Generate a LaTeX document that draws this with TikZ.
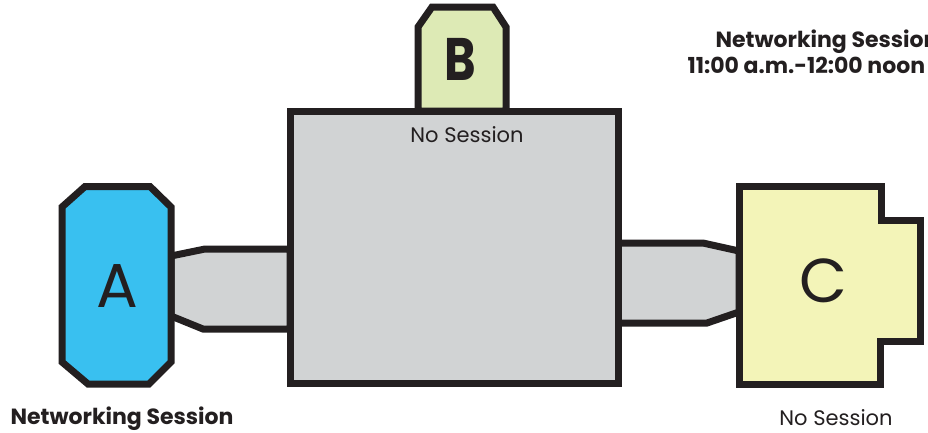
\documentclass[tikz,border=0pt]{standalone}
\usepackage{fontspec}
\setmainfont{Poppins}
\definecolor{ink}{HTML}{231F20}
\definecolor{boxgray}{HTML}{D1D3D4}
\definecolor{ablue}{HTML}{39C0F0}
\definecolor{bgreen}{HTML}{DDEAB5}
\definecolor{cyellow}{HTML}{F3F4B8}
\begin{document}
\begin{tikzpicture}[x=1pt,y=-1pt, line width=7pt, line join=miter,
  room/.style={draw=ink, fill=#1},
  small/.style={font=\fontsize{21}{24}\selectfont, text=ink, inner sep=0pt},
  smallbold/.style={font=\fontsize{22}{24}\selectfont\bfseries, text=ink, inner sep=0pt},
  big/.style={font=\fontsize{62}{64}\selectfont, text=ink, inner sep=0pt}]
\clip (0,0) rectangle (928,432);
\fill[white] (0,0) rectangle (928,432);
% connectors
\draw[room=boxgray] (171,256) -- (205,249) -- (290,249) -- (290,329) -- (203,329) -- (171,316) -- cycle;
\draw[room=boxgray] (618,243) -- (703,243) -- (739,251) -- (739,312) -- (707,323) -- (618,323) -- cycle;
% B
\draw[room=bgreen] (418,111) -- (418,27) -- (432,7) -- (493,7) -- (506,27) -- (506,111) -- cycle;
% main room
\draw[room=boxgray] (290,111) rectangle (618,383);
% A
\draw[room=ablue] (62,207) -- (85,186.5) -- (150,186.5) -- (171,207) -- (171,362) -- (149,384) -- (88,384) -- (62,362) -- cycle;
% C
\draw[room=cyellow] (739,186) -- (881,186) -- (881,220) -- (920,220) -- (920,341) -- (880,341) -- (880,384) -- (739,384) -- cycle;
% labels
\node[big, anchor=base] (la) at (117,307) {A};
\node[big, anchor=base, font=\fontsize{60}{64}\selectfont\bfseries, xscale=0.8] (lb) at (460,80) {B};
\node[big, anchor=base] (lc) at (823,302) {C};
\node[small, anchor=base] (nsmain) at (467,142) {No Session};
\node[small, anchor=base] (nsc) at (836,425) {No Session};
\node[smallbold, anchor=base west] (nsa) at (7,424) {Networking Session};
\node[smallbold, anchor=base west] (nsb1) at (712,47) {Networking Session};
\node[smallbold, anchor=base west] (nsb2) at (684,73) {11:00 a.m.-12:00 noon};
\end{tikzpicture}
\end{document}
